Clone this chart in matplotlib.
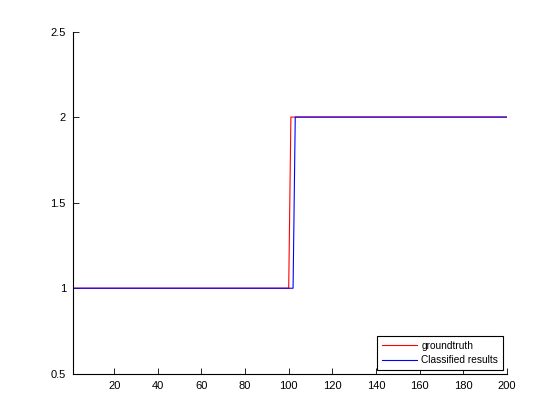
import matplotlib
matplotlib.use("Agg")
import matplotlib.pyplot as plt
import numpy as np

# run-length values: (level, number of samples)
groundtruth_runs = [(1, 100), (2, 100)]
classified_runs = [(1, 102), (2, 98)]
y_ticks = [0.5, 1, 1.5, 2, 2.5]
x_ticks = [20, 40, 60, 80, 100, 120, 140, 160, 180, 200]


def expand(runs):
    vals = []
    for level, n in runs:
        vals += [level] * n
    return np.array(vals, dtype=float)


groundtruth = expand(groundtruth_runs)
classified = expand(classified_runs)
x = np.arange(1, len(groundtruth) + 1)

plt.rcParams['font.family'] = ['Liberation Sans', 'DejaVu Sans']
plt.rcParams['font.size'] = 8

fig = plt.figure(figsize=(5.6, 4.2), dpi=100)
ax = fig.add_axes([0.13, 0.11, 0.775, 0.815])

ax.plot(x, groundtruth, color="red", lw=0.8, label='groundtruth')
ax.plot(x, classified, color="blue", lw=0.8, label='Classified results')

ax.set_xlim(1, 200)
ax.set_ylim(0.5, 2.5)
ax.set_xticks(x_ticks)
ax.set_yticks(y_ticks)
ax.set_yticklabels(['0.5', '1', '1.5', '2', '2.5'])
ax.tick_params(direction='in', length=4, width=0.6, pad=5)
ax.spines['top'].set_visible(False)
ax.spines['right'].set_visible(False)
ax.spines['left'].set_linewidth(0.8)
ax.spines['bottom'].set_linewidth(0.8)

leg = ax.legend(loc='lower right', fancybox=False, edgecolor='black',
                framealpha=1, fontsize=7.3, handlelength=3.45,
                borderaxespad=0.35, borderpad=0.5, labelspacing=0.45,
                handletextpad=0.46)
leg.get_frame().set_linewidth(0.8)

fig.savefig("out.png", dpi=100)
